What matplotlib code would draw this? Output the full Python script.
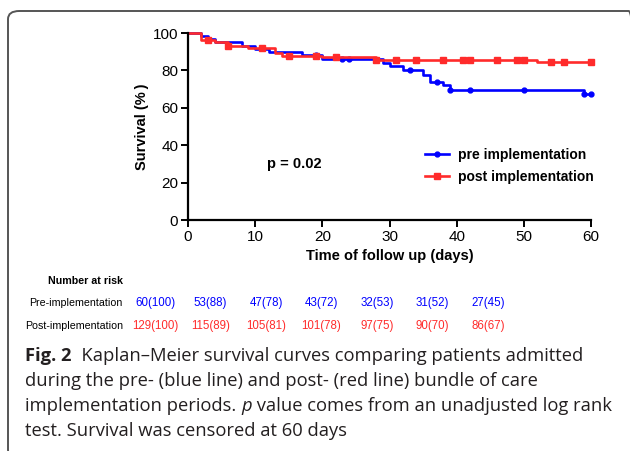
import numpy as np
import matplotlib
matplotlib.use("Agg")
import matplotlib.pyplot as plt
from matplotlib.lines import Line2D
from matplotlib.patches import FancyBboxPatch

# Kaplan-Meier steps (day, survival %)
pre_t = [0, 2, 3, 4, 8, 10, 12, 17, 20, 29, 30, 32, 35, 36, 38, 39, 59]
pre_s = [100, 98.3, 96.7, 95.0, 93.3, 91.7, 90.0, 88.3, 86.2, 84.1, 82.1, 80.0, 77.8, 74.0, 72.0, 69.7, 67.3]
pre_cens = [19, 23, 24, 33, 37, 39, 42, 50, 59, 60]

post_t = [0, 2, 4, 6, 9, 13, 14, 20, 28, 52]
post_s = [100, 96.3, 95.0, 93.3, 92.2, 89.4, 87.8, 87.0, 85.7, 84.7]
post_cens = [3, 6, 11, 15, 19, 22, 28, 31, 34, 38, 41, 42, 46, 49, 50, 54, 56, 60]

risk_days = [0, 10, 20, 30, 40, 50, 60]
pre_risk = ["60(100)", "53(88)", "47(78)", "43(72)", "32(53)", "31(52)", "27(45)"]
post_risk = ["129(100)", "115(89)", "105(81)", "101(78)", "97(75)", "90(70)", "86(67)"]

blue = "#0000ff"
red = "#ff2b2b"
W, H = 630, 451

plt.rcParams['font.family'] = ['Liberation Sans', 'DejaVu Sans']

fig = plt.figure(figsize=(6.3, 4.51), dpi=100)
ax = fig.add_axes([188 / W, 1 - 220 / H, (591 - 188) / W, (220 - 33) / H])


def km_curve(t, s, cens, end=60):
    tt = list(t) + [end]
    ss = list(s) + [s[-1]]
    idx = np.searchsorted(t, cens, side='right') - 1
    return tt, ss, np.array(s)[idx]


tt, ss, cs = km_curve(pre_t, pre_s, pre_cens)
ax.step(tt, ss, where='post', color=blue, lw=1.9, clip_on=False)
ax.plot(pre_cens, cs, 'o', color=blue, ms=3.5, ls='none', clip_on=False)

tt, ss, cs = km_curve(post_t, post_s, post_cens)
ax.step(tt, ss, where='post', color=red, lw=1.9, clip_on=False)
ax.plot(post_cens, cs, 's', color=red, ms=4.5, ls='none', clip_on=False)

ax.set_xlim(0, 60)
ax.set_ylim(0, 100)
ax.set_xticks(range(0, 61, 10))
ax.set_yticks(range(0, 101, 20))
for side in ['top', 'right']:
    ax.spines[side].set_visible(False)
for side in ['left', 'bottom']:
    ax.spines[side].set_linewidth(1.6)
ax.tick_params(direction='out', length=5, width=1.4, labelsize=11, pad=2)
ax.set_xlabel("Time of follow up (days)", fontsize=10.5, fontweight='bold', labelpad=4)
ax.set_ylabel("Survival (%\u2009)", fontsize=10.5, fontweight='bold', labelpad=3)

fig.text(267 / W, 1 - 168 / H, "p = 0.02", fontsize=10.5, fontweight='bold')

handles = [Line2D([], [], color=blue, lw=1.9, marker='o', ms=3.5),
           Line2D([], [], color=red, lw=1.9, marker='s', ms=4.5)]
ax.legend(handles, ["pre implementation", "post implementation"], frameon=False,
          prop={'weight': 'bold', 'size': 10}, loc='center left',
          bbox_to_anchor=(418 / W, 1 - 166 / H), bbox_transform=fig.transFigure,
          handlelength=1.7, handletextpad=0.7, labelspacing=0.55, borderpad=0)

# number at risk table
xs = np.linspace(155, 488, len(risk_days))
fig.text(123 / W, 1 - 281 / H, "Number at risk", ha='right', va='center',
         fontsize=7.7, fontweight='bold')
fig.text(123 / W, 1 - 303 / H, "Pre-implementation", ha='right', va='center', fontsize=7.7)
fig.text(123 / W, 1 - 326 / H, "Post-implementation", ha='right', va='center', fontsize=7.7)
for x, a, b in zip(xs, pre_risk, post_risk):
    fig.text(x / W, 1 - 303 / H, a, ha='center', va='center', fontsize=8.3, color=blue)
    fig.text(x / W, 1 - 326 / H, b, ha='center', va='center', fontsize=8.3, color=red)

# caption
cap_font = ['Open Sans', 'DejaVu Sans']
cap_size = 13.2
cap_col = '#231f20'
renderer = fig.canvas.get_renderer()


def put_pieces(y, pieces, x0=25):
    x = x0
    for txt, kw in pieces:
        t = fig.text(x / W, 1 - y / H, txt, va='baseline', fontsize=cap_size,
                     family=cap_font, color=cap_col, **kw)
        bb = t.get_window_extent(renderer)
        x += bb.width


put_pieces(361, [("Fig. 2", {'fontweight': 'bold'}),
                 ("  Kaplan\u2013Meier survival curves comparing patients admitted", {})])
put_pieces(386, [("during the pre- (blue line) and post- (red line) bundle of care", {})])
put_pieces(411, [("implementation periods. ", {}), ("p", {'style': 'italic'}),
                 (" value comes from an unadjusted log rank", {})])
put_pieces(436, [("test. Survival was censored at 60 days", {})])

frame = FancyBboxPatch((8 / W, 1 - 458 / H), (640 - 8) / W, (458 - 11) / H,
                       boxstyle="round,pad=0,rounding_size=0.018",
                       transform=fig.transFigure, fill=False, ec='#555555', lw=1.4)
fig.patches.append(frame)

fig.savefig("out.png", dpi=100)
